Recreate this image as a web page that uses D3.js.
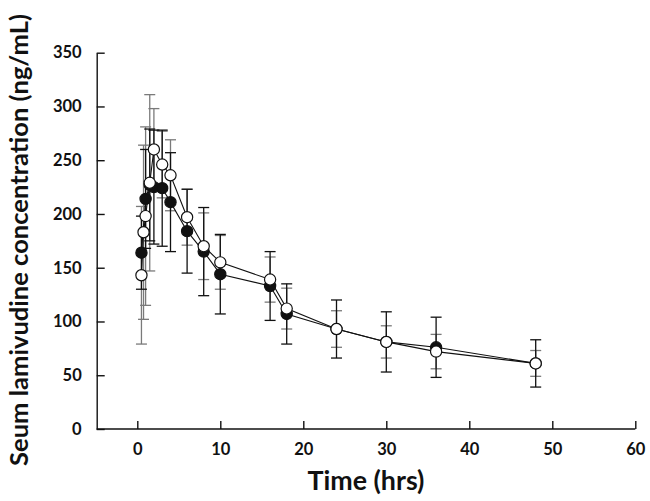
<!DOCTYPE html>
<html><head><meta charset="utf-8">
<script src="https://cdn.jsdelivr.net/npm/d3@7/dist/d3.min.js"></script>
<style>
body{margin:0;background:#fff;}
svg{display:block;}
text{font-family:Lato,"Open Sans",sans-serif;font-weight:bold;fill:#111;}
</style></head>
<body>
<svg id="chart" width="650" height="501"></svg>
<script>
// Filled circles: sampling times (hrs), mean and SD (ng/mL)
const filledTimes = [0.5, 1, 1.5, 2, 3, 4, 6, 8, 10, 16, 18, 24, 30, 36, 48];
const filledMean  = [164, 214, 227, 225, 224, 211, 184, 165, 144, 133, 107, 93, 81, 76, 61];
const filledSD    = [34, 46, 52, 53, 54, 46, 39, 41, 37, 32, 28, 27, 28, 28, 22];
// Open circles: sampling times (hrs), mean and SD (ng/mL)
const openTimes = [0.5, 0.75, 1, 1.5, 2, 3, 4, 6, 8, 10, 16, 18, 24, 30, 36, 48];
const openMean  = [143, 183, 198, 229, 260, 246, 236, 197, 170, 155, 139, 112, 93, 81, 72, 61];
const openSD    = [64, 81, 83, 82, 38, 31, 33, 26, 31, 25, 21, 19, 17, 15, 16, 12];
// Axis ticks
const xTicks = [0, 10, 20, 30, 40, 50, 60];
const yTicks = [0, 50, 100, 150, 200, 250, 300, 350];
const xTitle = "Time (hrs)";
const yTitle = "Seum lamivudine concentration (ng/mL)";

const svg = d3.select("#chart");
const x = d3.scaleLinear().domain([0, 60]).range([137.3, 635.3]);
const y = d3.scaleLinear().domain([0, 350]).range([429, 52.7]);
const axisX0 = 96.7;

// Y axis
const gy = svg.append("g").attr("transform", `translate(${axisX0},0)`)
  .call(d3.axisLeft(y).tickValues(yTicks).tickSizeInner(-8).tickSizeOuter(0).tickPadding(15));
gy.select(".domain").attr("stroke", "#111").attr("stroke-width", 1.4);
gy.selectAll(".tick line").attr("stroke", "#111").attr("stroke-width", 1.4);
gy.selectAll(".tick text").attr("font-size", 16.5).attr("font-family", "Lato,sans-serif").attr("font-weight", "bold").attr("fill", "#111");

// X axis
const gx = svg.append("g").attr("transform", `translate(0,${y(0)})`)
  .call(d3.axisBottom(x).tickValues(xTicks).tickSizeInner(-8).tickSizeOuter(0).tickPadding(14));
gx.select(".domain").remove();
gx.append("line").attr("x1", axisX0).attr("x2", x(60)).attr("y1", 0).attr("y2", 0)
  .attr("stroke", "#111").attr("stroke-width", 1.4);
gx.selectAll(".tick line").attr("stroke", "#111").attr("stroke-width", 1.4);
gx.selectAll(".tick text").attr("font-size", 16.5).attr("font-family", "Lato,sans-serif").attr("font-weight", "bold").attr("fill", "#111");

// Axis titles
function fitText(t, target) {
  const w = t.node().getComputedTextLength();
  const fs = parseFloat(t.attr("font-size"));
  t.attr("font-size", fs * target / w);
}
const xt = svg.append("text").attr("x", 366).attr("y", 490).attr("text-anchor", "middle")
  .attr("font-size", 20).text(xTitle);
fitText(xt, 117);
const yt = svg.append("text").attr("transform", "translate(28,240) rotate(-90)").attr("text-anchor", "middle")
  .attr("font-size", 20).text(yTitle);
fitText(yt, 452);

// Series
const filled = filledTimes.map((t, i) => ({t, m: filledMean[i], s: filledSD[i]}));
const open = openTimes.map((t, i) => ({t, m: openMean[i], s: openSD[i]}));

function errorBars(data, color) {
  const g = svg.append("g").attr("stroke", color).attr("stroke-width", 1.3).attr("fill", "none");
  data.forEach(d => {
    g.append("line").attr("x1", x(d.t)).attr("x2", x(d.t)).attr("y1", y(d.m - d.s)).attr("y2", y(d.m + d.s));
    [d.m - d.s, d.m + d.s].forEach(v => {
      g.append("line").attr("x1", x(d.t) - 5.5).attr("x2", x(d.t) + 5.5).attr("y1", y(v)).attr("y2", y(v));
    });
  });
}
errorBars(open, "#7a7a7a");
errorBars(filled, "#111");

const line = d3.line().x(d => x(d.t)).y(d => y(d.m));
svg.append("path").datum(filled).attr("d", line).attr("fill", "none").attr("stroke", "#111").attr("stroke-width", 1.1);
svg.append("path").datum(open).attr("d", line).attr("fill", "none").attr("stroke", "#111").attr("stroke-width", 1.1);

svg.append("g").selectAll("circle").data(filled).join("circle")
  .attr("cx", d => x(d.t)).attr("cy", d => y(d.m)).attr("r", 5.6)
  .attr("fill", "#111").attr("stroke", "#111").attr("stroke-width", 1.2);
svg.append("g").selectAll("circle").data(open).join("circle")
  .attr("cx", d => x(d.t)).attr("cy", d => y(d.m)).attr("r", 5.6)
  .attr("fill", "#fff").attr("stroke", "#111").attr("stroke-width", 1.2);
</script>
</body></html>
